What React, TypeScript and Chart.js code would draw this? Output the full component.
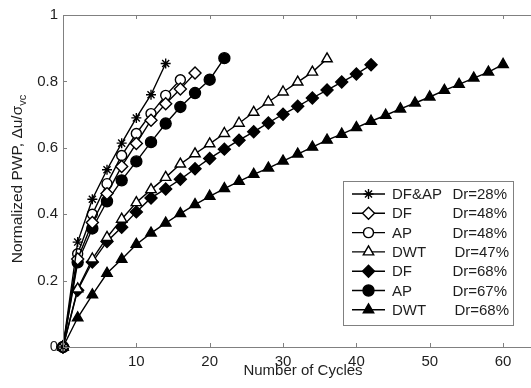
import React, { useEffect, useRef } from 'react';
import { Chart, registerables } from 'chart.js';
import { drawPoint } from 'chart.js/helpers';

Chart.register(...registerables);

// ---- data ----
const cycles = [0, 2, 4, 6, 8, 10, 12, 14, 16, 18, 20, 22, 24, 26, 28, 30, 32, 34, 36, 38, 40, 42, 44, 46, 48, 50, 52, 54, 56, 58, 60];

const dfap28 = [0, 0.316, 0.445, 0.534, 0.614, 0.690, 0.760, 0.854];
const df48 = [0, 0.265, 0.375, 0.462, 0.544, 0.613, 0.683, 0.733, 0.777, 0.825];
const ap48 = [0, 0.281, 0.400, 0.492, 0.577, 0.643, 0.703, 0.758, 0.805];
const dwt47 = [0, 0.175, 0.265, 0.330, 0.385, 0.435, 0.474, 0.511, 0.551, 0.582, 0.612, 0.643, 0.674, 0.707, 0.738, 0.768, 0.798, 0.828, 0.868];
const df68 = [0, 0.171, 0.256, 0.318, 0.361, 0.407, 0.449, 0.476, 0.505, 0.537, 0.568, 0.596, 0.623, 0.648, 0.675, 0.701, 0.725, 0.750, 0.774, 0.798, 0.822, 0.850];
const ap67 = [0, 0.255, 0.357, 0.439, 0.502, 0.559, 0.617, 0.673, 0.723, 0.765, 0.805, 0.870];
const dwt68 = [0, 0.088, 0.157, 0.222, 0.264, 0.309, 0.343, 0.373, 0.402, 0.429, 0.454, 0.477, 0.499, 0.520, 0.539, 0.560, 0.581, 0.602, 0.623, 0.641, 0.661, 0.680, 0.698, 0.717, 0.735, 0.753, 0.773, 0.791, 0.810, 0.828, 0.851];

const seriesNames = ['DF&AP', 'DF', 'AP', 'DWT', 'DF', 'AP', 'DWT'];
const seriesDr = ['Dr=28%', 'Dr=48%', 'Dr=48%', 'Dr=47%', 'Dr=68%', 'Dr=67%', 'Dr=68%'];
const seriesValues = [dfap28, df48, ap48, dwt47, df68, ap67, dwt68];

const xTicks = [10, 20, 30, 40, 50, 60];
const yTicks = [0, 0.2, 0.4, 0.6, 0.8, 1];
const xTitle = 'Number of Cycles';
const yTitleMain = 'Normalized PWP, \u0394u/\u03c3';
const yTitleSub = 'vc';

// ---- styles ----
const FONT = '"Liberation Sans", Arial, Helvetica, sans-serif';
const TEXT = '#1e1e1e';
const FRAME = '#808080';
const markerStyles = [
  { pointStyle: 'star', fill: '#000', radius: 5 },
  { pointStyle: 'rectRot', fill: '#fff', radius: 6 },
  { pointStyle: 'circle', fill: '#fff', radius: 5 },
  { pointStyle: 'triangle', fill: '#fff', radius: 6 },
  { pointStyle: 'rectRot', fill: '#000', radius: 6 },
  { pointStyle: 'circle', fill: '#000', radius: 5.5 },
  { pointStyle: 'triangle', fill: '#000', radius: 6 },
];

const framePlugin = {
  id: 'frameAndLegend',
  afterDraw(chart: any) {
    const ctx = chart.ctx;
    const { left, top, bottom } = chart.chartArea;
    const W = chart.width;
    const xs = chart.scales.x;
    const ys = chart.scales.y;
    ctx.save();
    ctx.strokeStyle = FRAME;
    ctx.lineWidth = 1;
    ctx.beginPath();
    ctx.moveTo(left + 0.5, top + 0.5);
    ctx.lineTo(W, top + 0.5);
    ctx.moveTo(left + 0.5, top);
    ctx.lineTo(left + 0.5, bottom + 0.5);
    ctx.lineTo(W, bottom + 0.5);
    const tl = 4;
    xTicks.forEach((v) => {
      const px = Math.round(xs.getPixelForValue(v)) + 0.5;
      ctx.moveTo(px, bottom);
      ctx.lineTo(px, bottom - tl);
      ctx.moveTo(px, top);
      ctx.lineTo(px, top + tl);
    });
    yTicks.forEach((v) => {
      const py = Math.round(ys.getPixelForValue(v)) + 0.5;
      ctx.moveTo(left, py);
      ctx.lineTo(left + tl, py);
    });
    ctx.stroke();

    // axis titles
    ctx.fillStyle = TEXT;
    ctx.font = `15px ${FONT}`;
    ctx.textAlign = 'center';
    ctx.textBaseline = 'middle';
    ctx.fillText(xTitle, 303, 371);

    ctx.save();
    ctx.translate(18, (top + bottom) / 2 - 2);
    ctx.rotate(-Math.PI / 2);
    ctx.font = `15.5px ${FONT}`;
    const wMain = ctx.measureText(yTitleMain).width;
    ctx.font = `11px ${FONT}`;
    const wSub = ctx.measureText(yTitleSub).width;
    const start = -(wMain + wSub) / 2;
    ctx.textAlign = 'left';
    ctx.font = `15.5px ${FONT}`;
    ctx.fillText(yTitleMain, start, 0);
    ctx.font = `11px ${FONT}`;
    ctx.fillText(yTitleSub, start + wMain, 5);
    ctx.restore();

    // legend
    const bx = 343.5, by = 181.5, bw = 170, bh = 144;
    ctx.fillStyle = '#fff';
    ctx.fillRect(bx, by, bw, bh);
    ctx.strokeStyle = FRAME;
    ctx.lineWidth = 1;
    ctx.strokeRect(bx, by, bw, bh);
    const rowStart = 194;
    const rowGap = 19.3;
    seriesNames.forEach((name, i) => {
      const y = rowStart + i * rowGap;
      ctx.strokeStyle = '#000';
      ctx.lineWidth = 1.4;
      ctx.beginPath();
      ctx.moveTo(352, y);
      ctx.lineTo(385, y);
      ctx.stroke();
      const st = markerStyles[i];
      ctx.fillStyle = st.fill;
      ctx.strokeStyle = '#000';
      ctx.lineWidth = 1.4;
      drawPoint(ctx, { pointStyle: st.pointStyle, radius: st.radius, rotation: 0, borderWidth: 1.4 }, 368.5, y);
      ctx.fillStyle = TEXT;
      ctx.font = `15px ${FONT}`;
      ctx.textBaseline = 'middle';
      ctx.textAlign = 'left';
      ctx.fillText(name, 392, y + 1);
      ctx.textAlign = 'right';
      const rightX = name === 'DWT' ? 509 : 507;
      ctx.fillText(seriesDr[i], rightX, y + 1);
    });
    ctx.restore();
  },
};

export default function App() {
  const canvasRef = useRef<HTMLCanvasElement | null>(null);

  useEffect(() => {
    const canvas = canvasRef.current;
    if (!canvas) return;
    const datasets = seriesValues.map((vals, i) => ({
      label: `${seriesNames[i]} ${seriesDr[i]}`,
      data: vals.map((v, j) => ({ x: cycles[j], y: v })),
      borderColor: '#000',
      borderWidth: 1.4,
      backgroundColor: markerStyles[i].fill,
      pointStyle: markerStyles[i].pointStyle as any,
      pointRadius: markerStyles[i].radius,
      pointBorderWidth: 1.4,
      pointBorderColor: '#000',
      pointBackgroundColor: markerStyles[i].fill,
      showLine: true,
      fill: false,
      tension: 0,
      clip: 10,
    }));

    const chart = new Chart(canvas, {
      type: 'scatter',
      data: { datasets },
      options: {
        animation: false,
        responsive: false,
        devicePixelRatio: 1,
        layout: { padding: { top: 15, left: 0, right: 0, bottom: 0 } },
        plugins: { legend: { display: false }, tooltip: { enabled: false } },
        scales: {
          x: {
            type: 'linear',
            bounds: 'data',
            min: 0,
            max: 62.8,
            afterBuildTicks: (s: any) => {
              s.ticks = xTicks.map((v) => ({ value: v }));
            },
            afterFit: (s: any) => {
              s.height = 41;
              s.paddingRight = 0;
              s.paddingLeft = 0;
            },
            grid: { display: false, drawTicks: false },
            border: { display: false },
            ticks: {
              autoSkip: false,
              maxRotation: 0,
              padding: 6,
              color: TEXT,
              font: { size: 15, family: FONT },
              callback: (v: any) => String(v),
            },
          },
          y: {
            type: 'linear',
            bounds: 'data',
            min: 0,
            max: 1,
            afterBuildTicks: (s: any) => {
              s.ticks = yTicks.map((v) => ({ value: v }));
            },
            afterFit: (s: any) => {
              s.width = 63;
              s.paddingTop = 0;
              s.paddingBottom = 0;
            },
            grid: { display: false, drawTicks: false },
            border: { display: false },
            ticks: {
              padding: 5,
              color: TEXT,
              font: { size: 15, family: FONT },
              callback: (v: any) => (v === 0 ? '0' : v === 1 ? '1' : Number(v).toFixed(1)),
            },
          },
        },
      },
      plugins: [framePlugin],
    });
    return () => chart.destroy();
  }, []);

  return (
    <div style={{ position: 'fixed', left: 0, top: 0, width: 531, height: 388, background: '#fff' }}>
      <canvas ref={canvasRef} width={531} height={388} style={{ display: 'block' }} />
    </div>
  );
}
